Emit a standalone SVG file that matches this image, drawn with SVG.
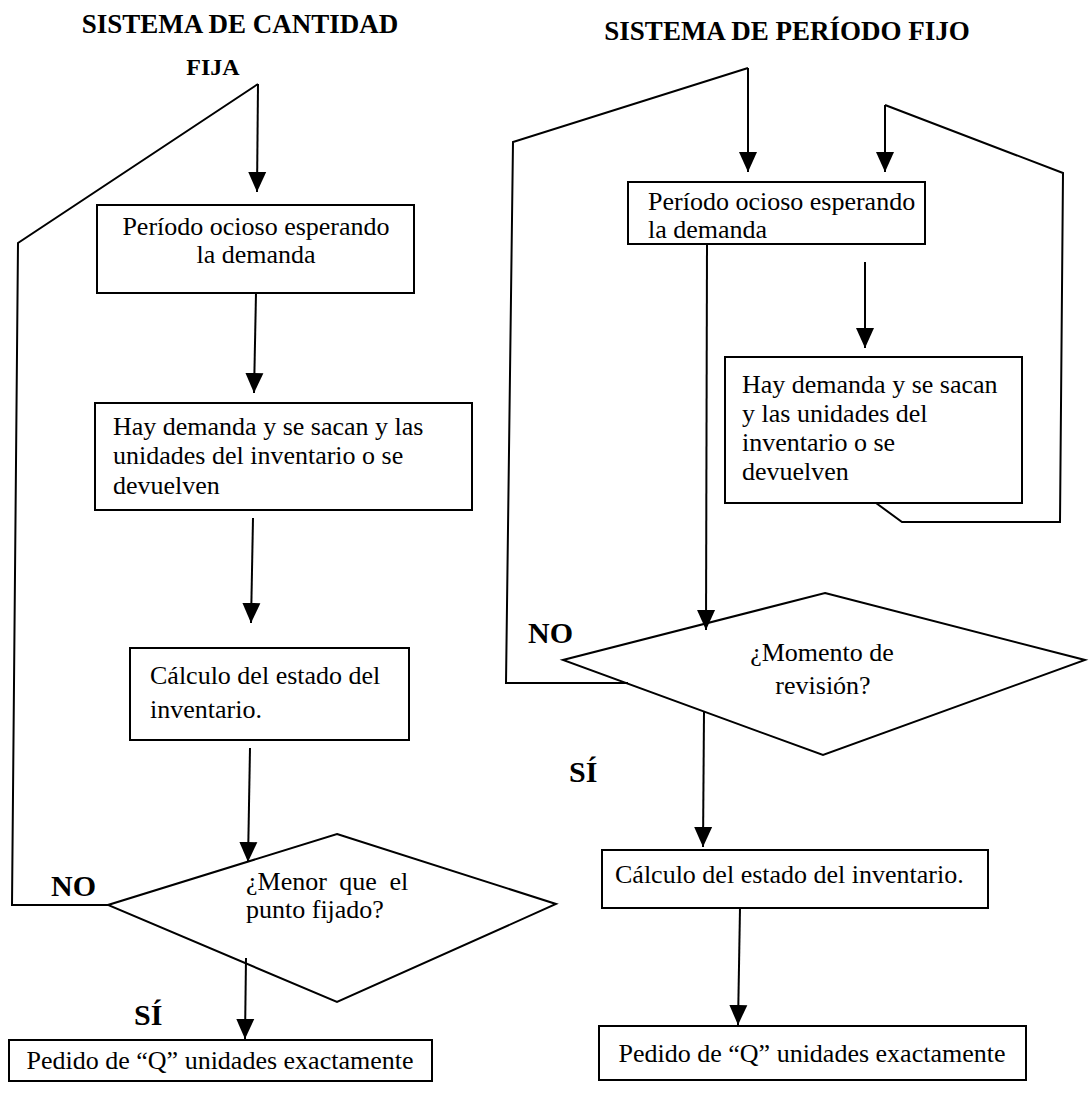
<svg xmlns="http://www.w3.org/2000/svg" width="1089" height="1094" viewBox="0 0 1089 1094">
  <defs>
    <marker id="arrow" viewBox="0 0 20 20" refX="20" refY="10" markerWidth="20" markerHeight="20" markerUnits="userSpaceOnUse" orient="auto">
      <path d="M0,1 L20,10 L0,19 z" fill="#000"/>
    </marker>
    <style>
      .box { fill: #fff; stroke: #000; stroke-width: 2; }
      .dia { fill: none; stroke: #000; stroke-width: 2; }
      .ln { fill: none; stroke: #000; stroke-width: 2; }
      .arr { fill: none; stroke: #000; stroke-width: 2; marker-end: url(#arrow); }
      .t { font-family: "Liberation Serif", "Times New Roman", serif; font-size: 26px; fill: #000; }
      .c { text-anchor: middle; }
      .h { font-family: "Liberation Serif", "Times New Roman", serif; font-weight: bold; fill: #000; }
      .lbl { font-size: 30px; }
    </style>
  </defs>
  <rect width="1089" height="1094" fill="#fff"/>

  <!-- headings -->
  <g id="titles">
    <text class="h" x="240" y="33" font-size="27" text-anchor="middle">SISTEMA DE CANTIDAD</text>
    <text class="h" x="213" y="75" font-size="24" text-anchor="middle">FIJA</text>
    <text class="h" x="787" y="40" font-size="27" text-anchor="middle">SISTEMA DE PERÍODO FIJO</text>
  </g>

  <!-- connectors -->
  <g id="connectors">
    <!-- fixed-quantity system -->
    <polyline class="ln" points="110,905 12,905 18,243 258,84"/>
    <line class="arr" x1="258" y1="84" x2="257" y2="192"/>
    <line class="arr" x1="256" y1="293" x2="254" y2="393"/>
    <line class="arr" x1="253" y1="518" x2="251" y2="623"/>
    <line class="arr" x1="250" y1="748" x2="248" y2="862"/>
    <line class="arr" x1="246" y1="958" x2="245" y2="1039"/>
    <!-- fixed-period system -->
    <polyline class="ln" points="628,683 506,683 513,142 748,68"/>
    <line class="arr" x1="748" y1="68" x2="748" y2="172"/>
    <polyline class="ln" points="876,503 902,522 1060,522 1063,173 885,105"/>
    <line class="arr" x1="885" y1="105" x2="885" y2="172"/>
    <line class="arr" x1="707" y1="244" x2="706" y2="630"/>
    <line class="arr" x1="865" y1="262" x2="865" y2="348"/>
    <line class="arr" x1="704" y1="711" x2="703" y2="847"/>
    <line class="arr" x1="740" y1="908" x2="738" y2="1025"/>
  </g>

  <!-- branch labels -->
  <g id="labels">
    <text class="h lbl" x="51" y="896">NO</text>
    <text class="h lbl" x="134" y="1025">SÍ</text>
    <text class="h lbl" x="528" y="643">NO</text>
    <text class="h lbl" x="569" y="782">SÍ</text>
  </g>

  <!-- fixed-quantity nodes -->
  <g id="q-espera">
    <rect class="box" x="97" y="205" width="317" height="88"/>
    <text class="t c" x="256" y="235">Período ocioso esperando</text>
    <text class="t c" x="256" y="263">la demanda</text>
  </g>
  <g id="q-demanda">
    <rect class="box" x="95" y="403" width="377" height="107"/>
    <text class="t" x="113" y="435">Hay demanda y se sacan y las</text>
    <text class="t" x="113" y="464">unidades del inventario o se</text>
    <text class="t" x="113" y="494">devuelven</text>
  </g>
  <g id="q-calculo">
    <rect class="box" x="130" y="648" width="279" height="92"/>
    <text class="t" x="150" y="684">Cálculo del estado del</text>
    <text class="t" x="150" y="718">inventario.</text>
  </g>
  <g id="q-decision">
    <polygon class="dia" points="337,834 556,904 337,1002 108,905"/>
    <text class="t" x="246" y="890" word-spacing="6">¿Menor que el</text>
    <text class="t" x="246" y="918">punto fijado?</text>
  </g>
  <g id="q-pedido">
    <rect class="box" x="9" y="1040" width="423" height="41"/>
    <text class="t c" x="220" y="1069">Pedido de “Q” unidades exactamente</text>
  </g>

  <!-- fixed-period nodes -->
  <g id="p-espera">
    <rect class="box" x="628" y="182" width="297" height="62"/>
    <text class="t" x="648" y="210">Período ocioso esperando</text>
    <text class="t" x="648" y="238">la demanda</text>
  </g>
  <g id="p-demanda">
    <rect class="box" x="725" y="357" width="297" height="146"/>
    <text class="t" x="742" y="393">Hay demanda y se sacan</text>
    <text class="t" x="742" y="422">y las unidades del</text>
    <text class="t" x="742" y="451">inventario o se</text>
    <text class="t" x="742" y="480">devuelven</text>
  </g>
  <g id="p-decision">
    <polygon class="dia" points="825,593 1085,660 823,755 563,660"/>
    <text class="t c" x="822" y="661">¿Momento de</text>
    <text class="t c" x="823" y="694">revisión?</text>
  </g>
  <g id="p-calculo">
    <rect class="box" x="602" y="850" width="386" height="58"/>
    <text class="t" x="615" y="883">Cálculo del estado del inventario.</text>
  </g>
  <g id="p-pedido">
    <rect class="box" x="599" y="1026" width="427" height="54"/>
    <text class="t c" x="812" y="1062">Pedido de “Q” unidades exactamente</text>
  </g>
</svg>
